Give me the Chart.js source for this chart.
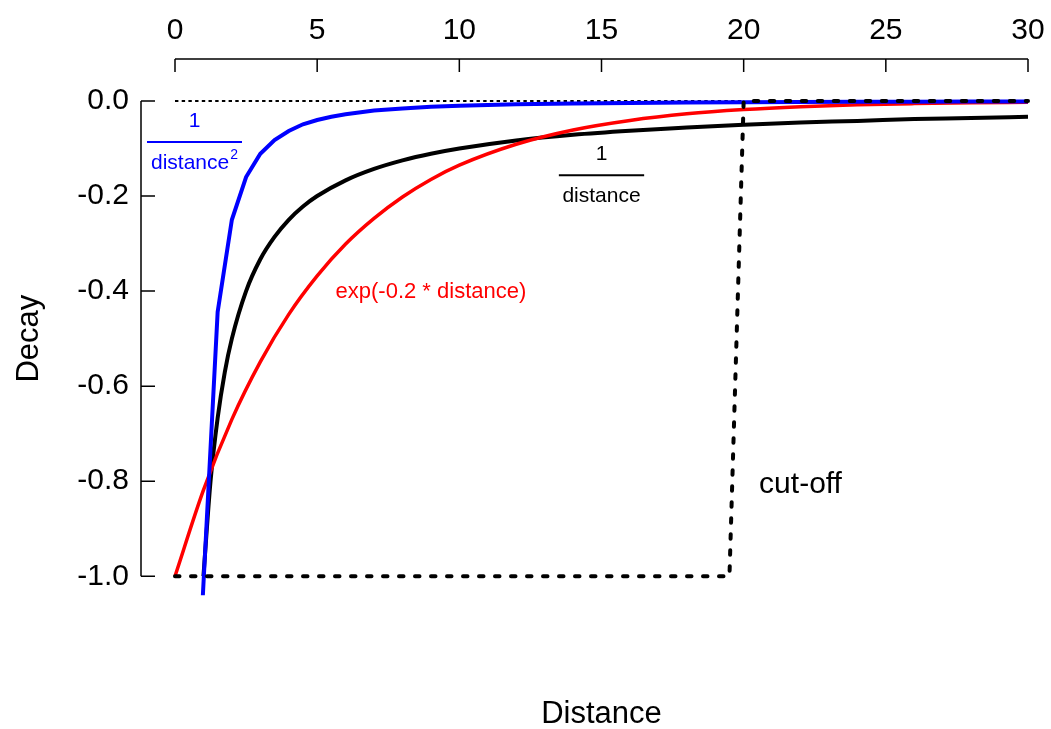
<!DOCTYPE html>
<html>
<head>
<meta charset="utf-8">
<script src="https://cdn.jsdelivr.net/npm/chart.js@4"></script>
<style>
  body { margin: 0; background: #fff; }
  #chart { display: block; }
</style>
</head>
<body>
<canvas id="chart" width="1051" height="729"></canvas>
<script>
// tick labels
const xTicks = [0, 5, 10, 15, 20, 25, 30];
const yTicks = [-1.0, -0.8, -0.6, -0.4, -0.2, 0.0];

// 1 / distance^2 (blue)
const blueX = [0.98, 1.5, 2, 2.5, 3, 3.5, 4, 4.5, 5, 5.5, 6, 7, 8, 9, 10, 12, 14, 16, 18, 20, 22, 24, 26, 28, 30];
const blueY = [-1.04, -0.444, -0.25, -0.16, -0.111, -0.082, -0.063, -0.049, -0.04, -0.033, -0.028, -0.02, -0.016, -0.012, -0.01, -0.007, -0.005, -0.004, -0.003, -0.0025, -0.002, -0.0017, -0.0015, -0.0013, -0.0011];

// 1 / distance (black)
const blackX = [1, 1.25, 1.5, 1.75, 2, 2.5, 3, 3.5, 4, 4.5, 5, 6, 7, 8, 9, 10, 12, 14, 16, 18, 20, 22, 24, 26, 28, 30];
const blackY = [-1, -0.8, -0.667, -0.571, -0.5, -0.4, -0.333, -0.286, -0.25, -0.222, -0.2, -0.167, -0.143, -0.125, -0.111, -0.1, -0.083, -0.071, -0.0625, -0.056, -0.05, -0.045, -0.042, -0.038, -0.036, -0.033];

// exp(-0.2 * distance) (red)
const redX = [0, 1, 2, 3, 4, 5, 6, 7, 8, 9, 10, 12, 14, 16, 18, 20, 22, 24, 26, 28, 30];
const redY = [-1, -0.819, -0.670, -0.549, -0.449, -0.368, -0.301, -0.247, -0.202, -0.165, -0.135, -0.091, -0.061, -0.041, -0.027, -0.018, -0.012, -0.008, -0.0055, -0.0037, -0.0025];

// cut-off step and zero line
const cutX = [0, 19.5, 20, 30];
const cutY = [-1, -1, 0, 0];
const zeroX = [0, 20];
const zeroY = [0, 0];

const FONT = '"Liberation Sans", Arial, sans-serif';

function pts(xs, ys) {
  return xs.map((x, i) => ({ x: x, y: ys[i] }));
}

// labels drawn on the plot, placed in data units
const notes = [
  { kind: 'frac', color: '#0000ff', x: 0.686, x1: -0.985, x2: 2.356, top: -0.0537, bar: -0.0863, bottom: -0.143, size: 21, sup: true },
  { kind: 'frac', color: '#000000', x: 15.0, x1: 13.5, x2: 16.5, top: -0.124, bar: -0.156, bottom: -0.2126, size: 21, sup: false },
  { kind: 'text', color: '#ff0000', x: 9.0, y: -0.415, size: 22, text: 'exp(-0.2 * distance)' },
  { kind: 'text', color: '#000000', x: 22.0, y: -0.825, size: 30, text: 'cut-off' }
];

const decorPlugin = {
  id: 'decor',
  afterDraw(chart) {
    const ctx = chart.ctx;
    const xs = chart.scales.x, ys = chart.scales.y;
    const area = chart.chartArea;
    ctx.save();
    ctx.strokeStyle = '#000';
    ctx.lineWidth = 1.5;
    ctx.setLineDash([]);

    // top axis
    const ay = area.top - 42;
    ctx.beginPath();
    ctx.moveTo(xs.getPixelForValue(xTicks[0]), ay);
    ctx.lineTo(xs.getPixelForValue(xTicks[xTicks.length - 1]), ay);
    xTicks.forEach(v => {
      const px = xs.getPixelForValue(v);
      ctx.moveTo(px, ay);
      ctx.lineTo(px, ay + 13);
    });
    ctx.stroke();

    // left axis
    const ax = area.left - 34;
    ctx.beginPath();
    ctx.moveTo(ax, ys.getPixelForValue(yTicks[0]));
    ctx.lineTo(ax, ys.getPixelForValue(yTicks[yTicks.length - 1]));
    yTicks.forEach(v => {
      const py = ys.getPixelForValue(v);
      ctx.moveTo(ax, py);
      ctx.lineTo(ax + 14, py);
    });
    ctx.stroke();

    // axis titles
    ctx.fillStyle = '#000';
    ctx.font = '31px ' + FONT;
    ctx.textAlign = 'center';
    ctx.textBaseline = 'alphabetic';
    const midX = (xs.getPixelForValue(0) + xs.getPixelForValue(30)) / 2;
    ctx.fillText('Distance', midX, 723);
    const midY = (ys.getPixelForValue(-1) + ys.getPixelForValue(0)) / 2;
    ctx.save();
    ctx.translate(38, midY);
    ctx.rotate(-Math.PI / 2);
    ctx.fillText('Decay', 0, 0);
    ctx.restore();

    // curve labels
    notes.forEach(n => {
      ctx.fillStyle = n.color;
      ctx.strokeStyle = n.color;
      ctx.font = n.size + 'px ' + FONT;
      ctx.textBaseline = 'alphabetic';
      if (n.kind === 'text') {
        ctx.textAlign = 'center';
        ctx.fillText(n.text, xs.getPixelForValue(n.x), ys.getPixelForValue(n.y));
        return;
      }
      const cx = xs.getPixelForValue(n.x);
      ctx.textAlign = 'center';
      ctx.fillText('1', cx, ys.getPixelForValue(n.top));
      ctx.lineWidth = 2;
      ctx.beginPath();
      const by = ys.getPixelForValue(n.bar);
      ctx.moveTo(xs.getPixelForValue(n.x1), by);
      ctx.lineTo(xs.getPixelForValue(n.x2), by);
      ctx.stroke();
      const byText = ys.getPixelForValue(n.bottom);
      if (n.sup) {
        const w = ctx.measureText('distance').width;
        ctx.font = '14px ' + FONT;
        const w2 = ctx.measureText('2').width;
        const left = cx - (w + w2 + 1) / 2;
        ctx.textAlign = 'left';
        ctx.fillText('2', left + w + 1, byText - 10);
        ctx.font = n.size + 'px ' + FONT;
        ctx.fillText('distance', left, byText);
      } else {
        ctx.fillText('distance', cx, byText);
      }
    });
    ctx.restore();
  }
};

new Chart(document.getElementById('chart'), {
  type: 'line',
  data: {
    datasets: [
      { label: 'cut-off', data: pts(cutX, cutY), borderColor: '#000', borderWidth: 4, borderDash: [4.5, 11.5], borderCapStyle: 'round', order: 0 },
      { label: '1/distance^2', data: pts(blueX, blueY), borderColor: '#0000ff', borderWidth: 4, order: 1 },
      { label: 'exp', data: pts(redX, redY), borderColor: '#ff0000', borderWidth: 3.5, cubicInterpolationMode: 'monotone', order: 2 },
      { label: '1/distance', data: pts(blackX, blackY), borderColor: '#000', borderWidth: 4, cubicInterpolationMode: 'monotone', order: 3 },
      { label: 'zero', data: pts(zeroX, zeroY), borderColor: '#000', borderWidth: 2, borderDash: [3.4, 3.3], order: 4 }
    ]
  },
  options: {
    responsive: false,
    animation: false,
    clip: false,
    layout: { padding: { left: 0, top: 0, right: 23, bottom: 129 } },
    elements: { point: { radius: 0 }, line: { tension: 0, fill: false } },
    plugins: { legend: { display: false }, tooltip: { enabled: false } },
    scales: {
      x: {
        type: 'linear',
        position: 'top',
        min: 0,
        max: 30,
        afterBuildTicks: s => { s.ticks = xTicks.map(v => ({ value: v })); },
        afterFit: s => { s.height = 101; s.paddingLeft = 0; s.paddingRight = 0; },
        grid: { display: false, drawTicks: false },
        border: { display: false },
        ticks: { color: '#000', font: { size: 30, family: FONT }, padding: 52, maxRotation: 0, autoSkip: false }
      },
      y: {
        type: 'linear',
        min: -1.05,
        max: 0,
        afterBuildTicks: s => { s.ticks = yTicks.map(v => ({ value: v })); },
        afterFit: s => { s.width = 175; s.paddingTop = 0; s.paddingBottom = 0; },
        grid: { display: false, drawTicks: false },
        border: { display: false },
        ticks: { color: '#000', font: { size: 30, family: FONT }, padding: 46, autoSkip: false, callback: v => Number(v).toFixed(1) }
      }
    }
  },
  plugins: [decorPlugin]
});
</script>
</body>
</html>
